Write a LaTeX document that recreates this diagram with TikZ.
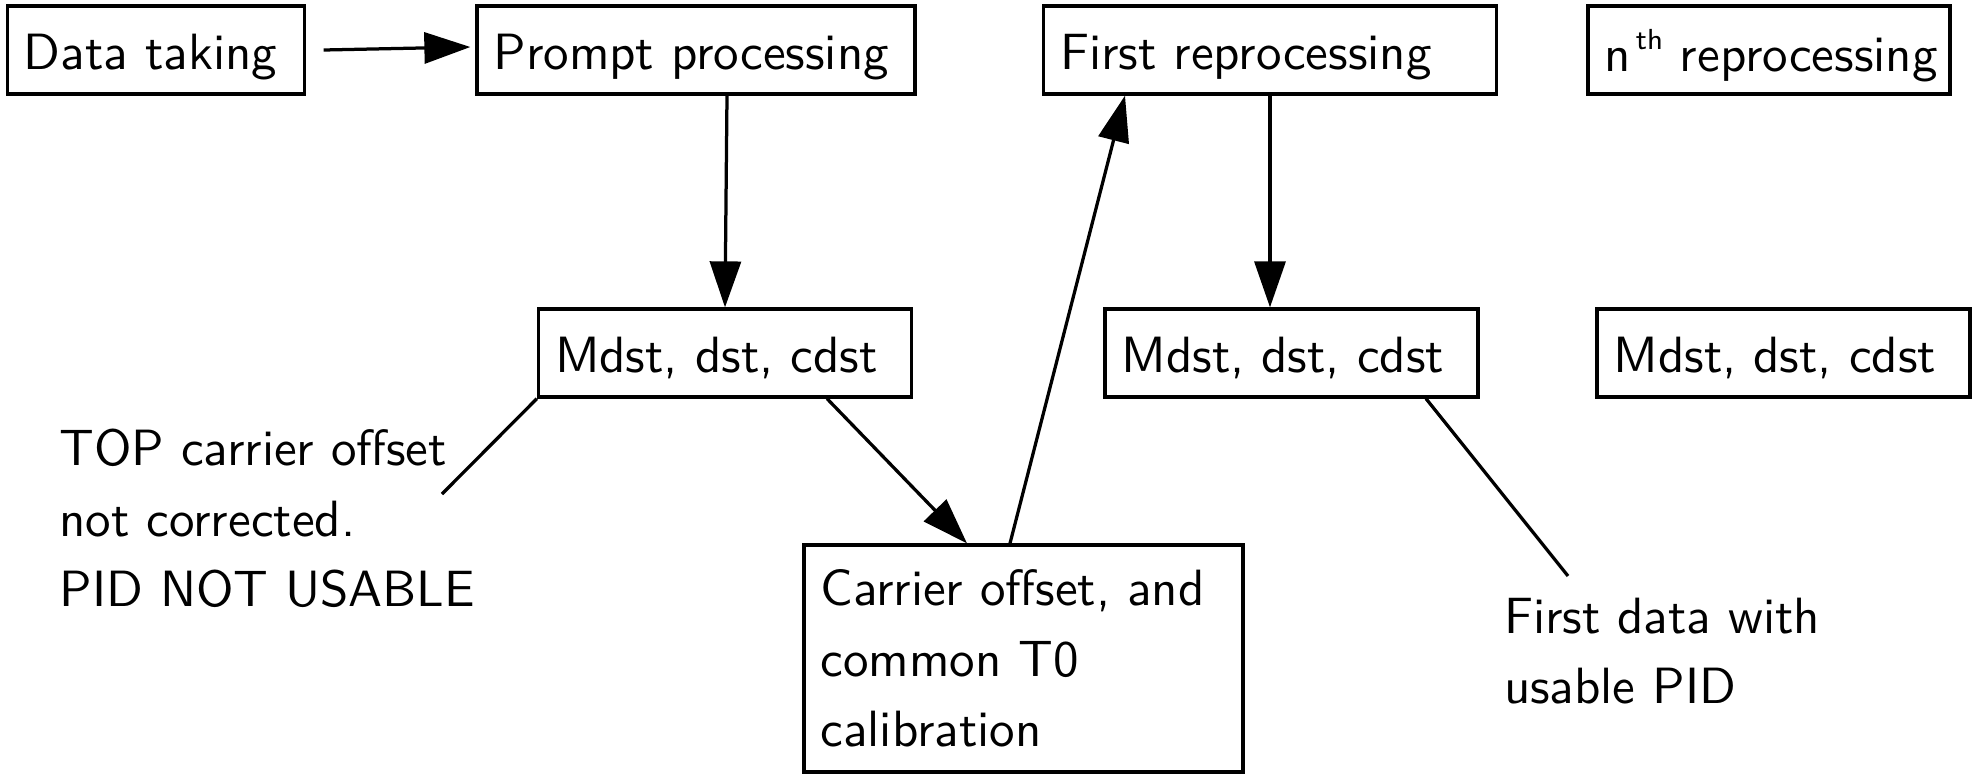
\documentclass[tikz,border=0pt]{standalone}
\usetikzlibrary{arrows.meta,calc}
\begin{document}
\begin{tikzpicture}[x=0.2pt,y=-0.2pt,
  every node/.style={font=\fontsize{10.2pt}{14.1pt}\selectfont\sffamily},
  box/.style={draw, line width=0.65pt, inner xsep=3.3pt, inner ysep=0pt,
    minimum height=17.6pt, align=left},
  onerow/.style={box, text height=7.6pt, text depth=0pt},
  arr/.style={line width=0.65pt, -{Triangle[length=9.2pt,width=6.2pt]}},
  link/.style={line width=0.65pt},
  note/.style={inner sep=0pt, align=left, anchor=north west}]
\useasboundingbox (0,0) rectangle (1975,774);

% processing stages
\node[onerow, text width=52.8pt] (data)   at (156,50)  {Data taking};
\node[onerow, text width=81pt]   (prompt) at (696,50)  {Prompt processing};
\node[onerow, text width=83.9pt] (first)  at (1270,50) {First reprocessing};
\node[onerow, text width=65.8pt, text height=8.4pt] (nth) at (1769,50)
  {\mbox{n\hspace{1pt}\raisebox{4.3pt}{\fontsize{5.8pt}{6pt}\selectfont th} reprocessing}};

% output data sets
\node[onerow, text width=68pt] (m1) at (725,353)    {Mdst, dst, cdst};
\node[onerow, text width=68pt] (m2) at (1291.5,353) {Mdst, dst, cdst};
\node[onerow, text width=68pt] (m3) at (1783.5,353) {Mdst, dst, cdst};

% calibration step
\node[box, text width=81.2pt, minimum height=45.4pt] (cal) at (1023.5,658.5)
  {\mbox{Carrier offset, and}\\common T0\\calibration};

% flow
\draw[arr] ([xshift=3.5pt]data.east) -- ([xshift=-1pt,yshift=0.6pt]prompt.west);
\draw[arr] ([xshift=6.2pt]prompt.south) -- (m1.north);
\draw[arr] ([xshift=20.4pt]m1.south) -- ([xshift=-11.3pt]cal.north);
\draw[arr] ([xshift=-2.7pt]cal.north) -- ([xshift=-29pt]first.south);
\draw[arr] (first.south) -- (first.south |- m2.north);

% annotations
\coordinate (n1) at (442,494);
\coordinate (n2) at (1568,576);
\draw[link] (m1.south west) -- (n1);
\draw[link] ([xshift=26.9pt]m2.south) -- (n2);
\node[note] (topnote) at (58.5,428) {TOP carrier offset\\not corrected.\\PID NOT USABLE};
\node[note] (pidnote) at (1503,597) {First data with\\usable PID};
\end{tikzpicture}
\end{document}
